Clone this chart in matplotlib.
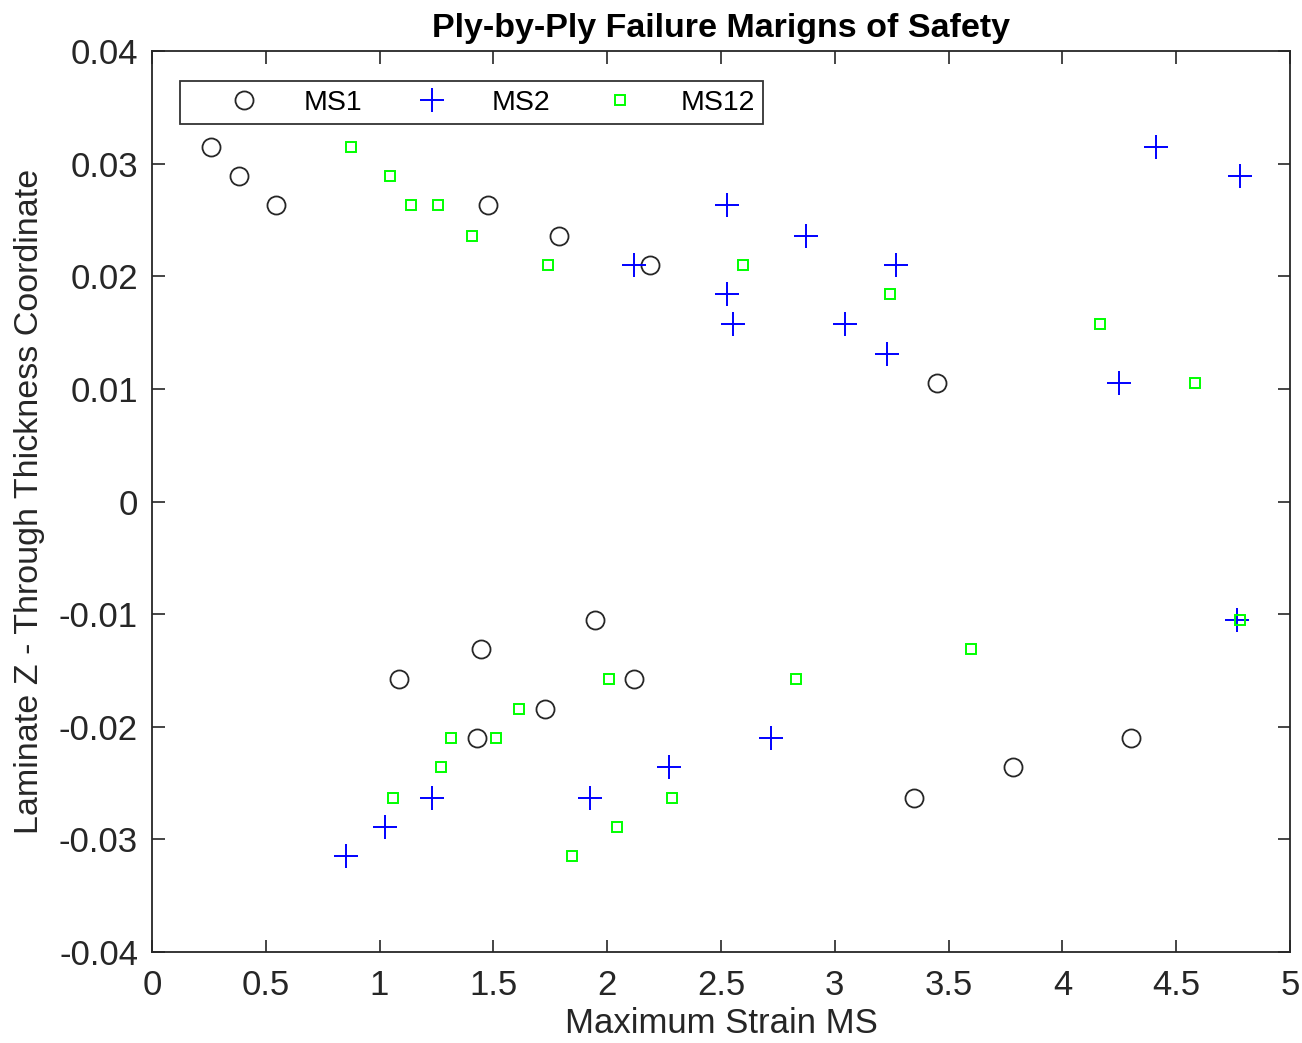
import matplotlib.pyplot as plt

plt.rcParams['font.family'] = ['Liberation Sans', 'DejaVu Sans']

# MS1 values (circles)
ms1_x = [0.259, 0.382, 0.545, 1.476, 1.788, 2.188, 3.449,
         1.946, 1.446, 1.085, 2.118, 1.727, 1.428, 4.301, 3.783, 3.348]
ms1_z = [0.0315, 0.0289, 0.0263, 0.0263, 0.0236, 0.0210, 0.0105,
         -0.0105, -0.0131, -0.0158, -0.0158, -0.0184, -0.0210, -0.0210, -0.0236, -0.0263]

# MS2 values (plus)
ms2_x = [4.411, 4.780, 2.526, 2.873, 2.118, 3.269, 2.526, 2.553, 3.045, 3.229, 4.249,
         4.767, 2.720, 2.272, 1.230, 1.924, 1.024, 0.852]
ms2_z = [0.0315, 0.0289, 0.0263, 0.0236, 0.0210, 0.0210, 0.0184, 0.0158, 0.0158, 0.0131, 0.0105,
         -0.0105, -0.0210, -0.0236, -0.0263, -0.0263, -0.0289, -0.0315]

# MS12 values (squares)
ms12_x = [0.874, 1.046, 1.138, 1.257, 1.406, 1.740, 2.597, 3.243, 4.165, 4.583,
          4.780, 3.598, 2.008, 2.830, 1.612, 1.314, 1.511, 1.270, 1.059, 2.285, 2.043, 1.845]
ms12_z = [0.0315, 0.0289, 0.0263, 0.0263, 0.0236, 0.0210, 0.0210, 0.0184, 0.0158, 0.0105,
          -0.0105, -0.0131, -0.0158, -0.0158, -0.0184, -0.0210, -0.0210, -0.0236, -0.0263, -0.0263, -0.0289, -0.0315]

axis_color = '#262626'

fig = plt.figure(figsize=(13.02, 10.43), dpi=100)
ax = fig.add_axes([0.1167, 0.0872, 0.8741, 0.8639])

ax.plot(ms1_x, ms1_z, 'o', mfc='none', mec=axis_color, ms=13, mew=1.3, label='MS1')
ax.plot(ms2_x, ms2_z, '+', color='blue', ms=17, mew=1.4, label='MS2')
ax.plot(ms12_x, ms12_z, 's', mfc='none', mec='#00ff00', ms=7.5, mew=1.4, label='MS12')

ax.set_xlim(0, 5)
ax.set_ylim(-0.04, 0.04)
ax.set_xticks([0, 0.5, 1, 1.5, 2, 2.5, 3, 3.5, 4, 4.5, 5])
ax.set_xticklabels(['0', '0.5', '1', '1.5', '2', '2.5', '3', '3.5', '4', '4.5', '5'])
ax.set_yticks([-0.04, -0.03, -0.02, -0.01, 0, 0.01, 0.02, 0.03, 0.04])
ax.set_yticklabels(['-0.04', '-0.03', '-0.02', '-0.01', '0', '0.01', '0.02', '0.03', '0.04'])

ax.tick_params(direction='in', top=True, right=True, length=9, width=1.2,
               labelsize=25, colors=axis_color)
ax.tick_params(axis='x', pad=12)
ax.tick_params(axis='y', pad=10)
for s in ax.spines.values():
    s.set_color(axis_color)
    s.set_linewidth(1.3)

ax.set_xlabel('Maximum Strain MS', fontsize=25, color=axis_color, labelpad=4)
ax.set_ylabel('Laminate Z - Through Thickness Coordinate', fontsize=24.5, color=axis_color, labelpad=10)
ax.set_title('Ply-by-Ply Failure Marigns of Safety', fontsize=24.5, fontweight='bold', pad=10)

leg = ax.legend(loc='upper left', bbox_to_anchor=(0.0246, 0.9667), borderaxespad=0,
                ncol=3, fontsize=20.5, frameon=True, fancybox=False, edgecolor='black',
                handlelength=3.9, handletextpad=0.15, columnspacing=0.5,
                borderpad=0.3, numpoints=1)
leg.get_frame().set_linewidth(1.3)

fig.savefig('out.png', dpi=100)
